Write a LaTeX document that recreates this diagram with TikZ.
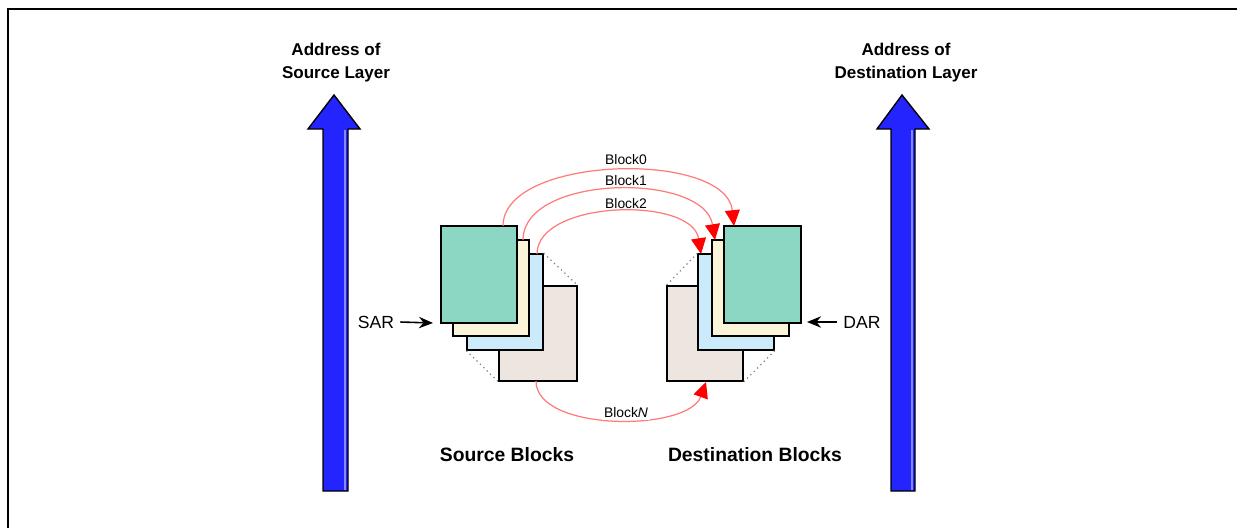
\documentclass[tikz,border=0pt]{standalone}
\usepackage{fontspec}
\setmainfont{Liberation Sans}
\usetikzlibrary{arrows.meta,fit}
\definecolor{tealbox}{HTML}{8CD6C4}
\definecolor{creambox}{HTML}{FAF4D8}
\definecolor{skybox}{HTML}{CCEBFA}
\definecolor{sandbox}{HTML}{EDE5DF}
\definecolor{addrblue}{HTML}{2424FF}
\definecolor{arcred}{HTML}{FF7A7A}
\begin{document}
\begin{tikzpicture}[x=0.02cm,y=-0.02cm,
  blk/.style={draw=black, line width=0.8pt, inner sep=0pt},
  addr/.style={draw=black, line width=0.8pt, fill=addrblue, line join=miter},
  shine/.style={draw=addrblue!55!white, line width=0.6pt},
  copyarc/.style={draw=arcred, line width=0.7pt, -{Triangle[length=9pt,width=8.5pt,color=red]}},
  stack/.style={draw=gray, dotted, line width=0.7pt},
  regptr/.style={draw=black, line width=0.9pt, -{Stealth[length=8pt,width=6.5pt]}},
  title/.style={font=\fontsize{9.7}{13}\selectfont\bfseries, align=center},
  caption/.style={font=\fontsize{11}{13}\selectfont\bfseries},
  reg/.style={font=\fontsize{10}{12}\selectfont},
  blab/.style={font=\fontsize{7.9}{9}\selectfont, inner sep=1pt}]
\useasboundingbox (0,0) rectangle (1237,528);

% outer frame (open to the right and bottom)
\draw[line width=1.1pt] (7.8,528) -- (7.8,9) -- (1237,9);

% address arrows
\draw[addr] (323,491) -- (323,129) -- (308,129) -- (334,95) -- (360,129) -- (348,129) -- (348,491) -- cycle;
\draw[shine] (345,130) -- (345,490);
\draw[addr] (891,491) -- (891,129) -- (877,129) -- (902,95) -- (929,129) -- (915,129) -- (915,491) -- cycle;
\draw[shine] (912,130) -- (912,490);

\node[title] (srcLayer) at (336,63) {Address of\\Source Layer};
\node[title] (dstLayer) at (906,63) {Address of\\Destination Layer};

% source stack
\node[blk, fill=sandbox, fit={(499,286) (577,381)}] (sN) {};
\node[blk, fill=skybox,  fit={(467,254) (543,350)}] (s2) {};
\node[blk, fill=creambox,fit={(453,240) (529,336)}] (s1) {};
\node[blk, fill=tealbox, fit={(441,226) (517,323)}] (s0) {};
\draw[stack] (s2.north east) -- (sN.north east);
\draw[stack] (s2.south west) -- (sN.south west);

% destination stack
\node[blk, fill=sandbox, fit={(667,286) (743,381)}] (dN) {};
\node[blk, fill=skybox,  fit={(698,254) (774,350)}] (d2) {};
\node[blk, fill=creambox,fit={(712,240) (789,336)}] (d1) {};
\node[blk, fill=tealbox, fit={(724,226) (801,323)}] (d0) {};
\draw[stack] (d2.north west) -- (dN.north west);
\draw[stack] (d2.south east) -- (dN.south east);

% copy paths
\coordinate (a0) at (503,226); \coordinate (b0) at (734,226);
\coordinate (a1) at (523,240); \coordinate (b1) at (715,240);
\coordinate (a2) at (537,254); \coordinate (b2) at (701,254);
\coordinate (aN) at (536,381); \coordinate (bN) at (706,382);
\draw[copyarc] (a0) .. controls (503,155) and (726,150) .. (b0);
\draw[copyarc] (a1) .. controls (523,174) and (704,172) .. (b1);
\draw[copyarc] (a2) .. controls (537,200) and (692,196) .. (b2);
\draw[copyarc] (aN) .. controls (536,432) and (688,432) .. (bN);

\node[blab] (l0) at (626,160) {Block0};
\node[blab] (l1) at (626,181) {Block1};
\node[blab] (l2) at (626,204) {Block2};
\node[blab, fill=white] (lN) at (626,413) {Block\textit{N}};

% address registers
\node[reg] (sar) at (376,322) {SAR};
\coordinate (sarTip) at (433,323);
\draw[regptr] (sar.east) -- (sarTip);
\node[reg] (dar) at (862,322) {DAR};
\coordinate (darTip) at (807,322);
\draw[regptr] (dar.west) -- (darTip);

\node[caption] (srcCap) at (507,455) {Source Blocks};
\node[caption] (dstCap) at (755,455) {Destination Blocks};
\end{tikzpicture}
\end{document}
